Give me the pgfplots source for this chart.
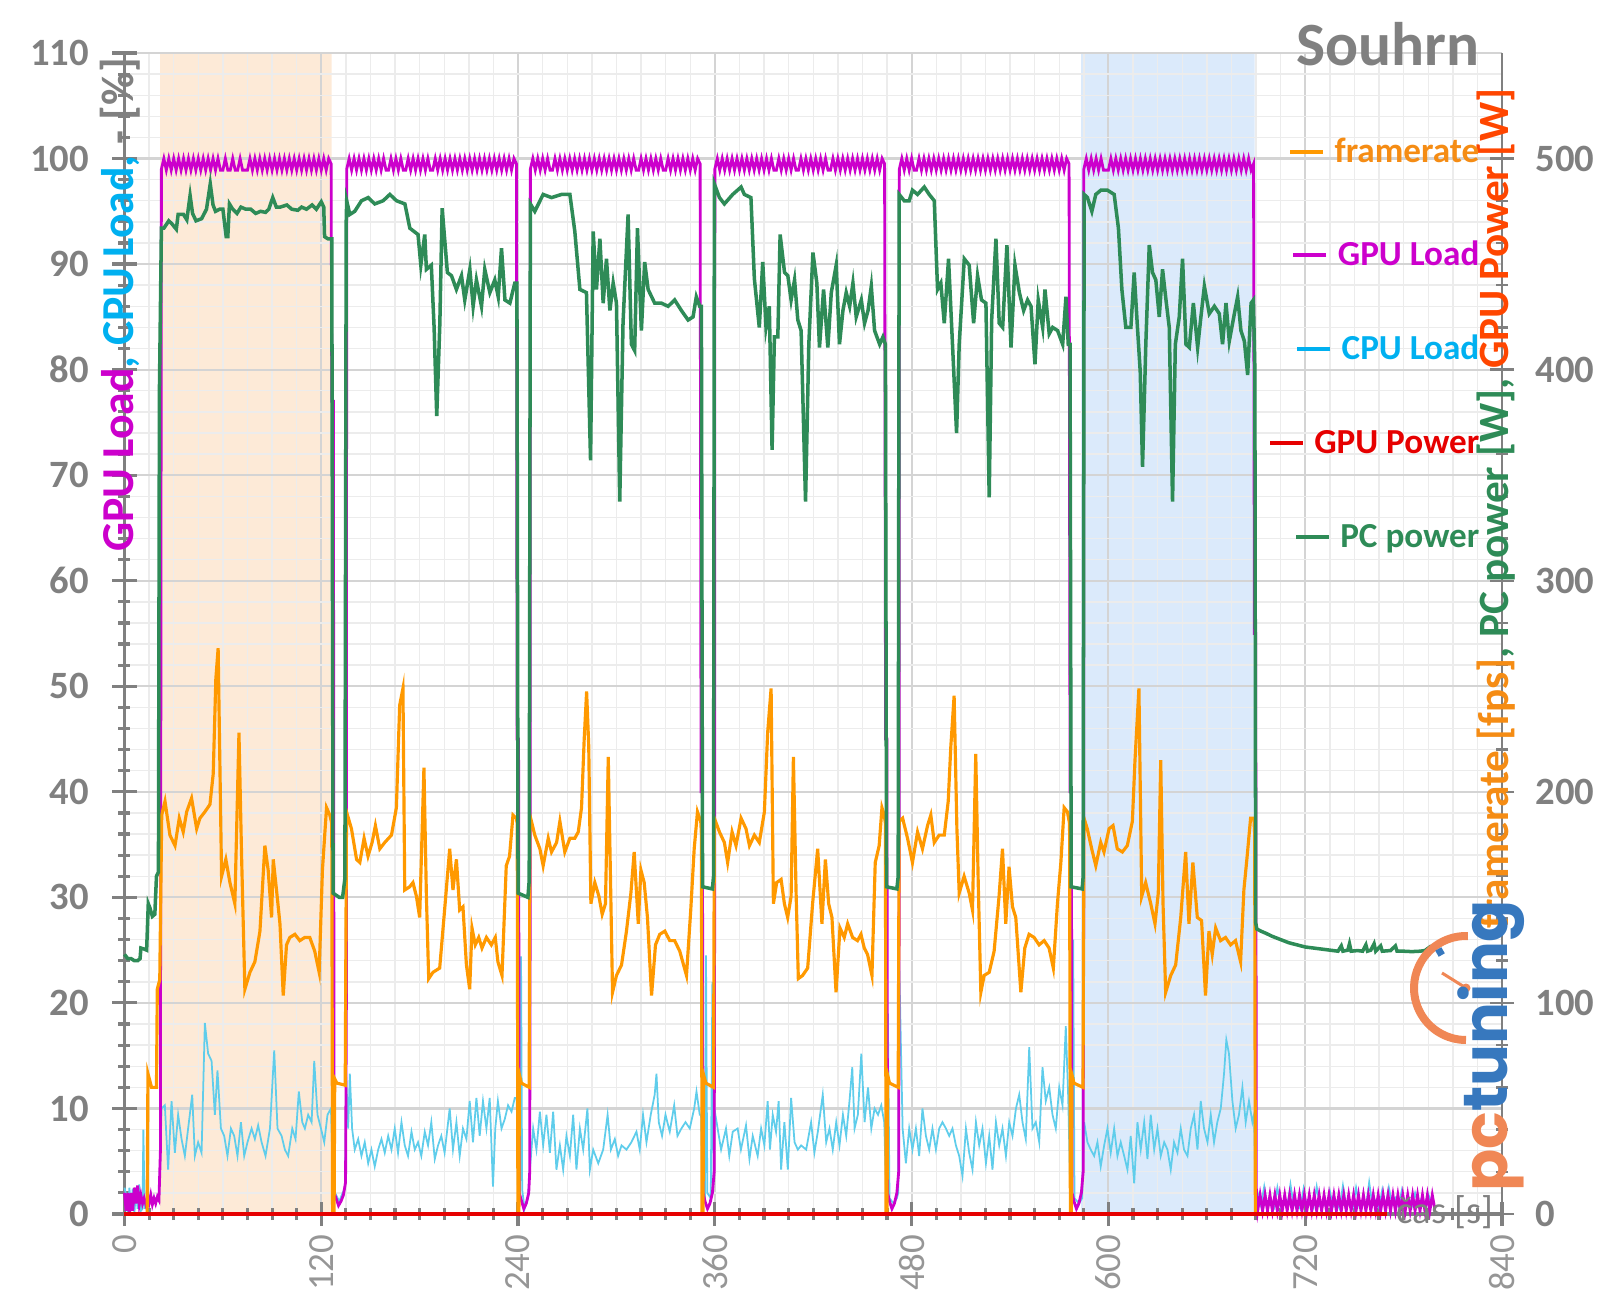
\documentclass[border=0pt]{standalone}
\usepackage{pgfplots}
\pgfplotsset{compat=1.18}
\usepackage{fontspec}
\setmainfont{Carlito}
\newfontfamily\logofont{Poppins}
\definecolor{cGPU}{RGB}{204,0,204}
\definecolor{cCPU}{RGB}{95,205,235}
\definecolor{cCPUt}{RGB}{0,176,240}
\definecolor{cFPS}{RGB}{255,153,0}
\definecolor{cFPSt}{RGB}{245,140,20}
\definecolor{cGPUP}{RGB}{230,0,0}
\definecolor{cGPUPt}{RGB}{255,70,0}
\definecolor{cPC}{RGB}{46,139,87}
\definecolor{cGray}{RGB}{128,128,128}
\definecolor{cGrayL}{RGB}{150,150,150}
\definecolor{cBandO}{RGB}{253,234,215}
\definecolor{cBandB}{RGB}{219,234,251}
\definecolor{cGridMaj}{RGB}{212,212,212}
\definecolor{cGridMin}{RGB}{236,236,236}
\definecolor{cLogoO}{RGB}{240,135,85}
\definecolor{cLogoB}{RGB}{55,120,190}
\begin{document}
\begin{tikzpicture}
\begin{axis}[
  set layers,
  width=13.775cm, height=11.61cm, scale only axis,
  at={(0,0)}, anchor=south west,
  xmin=0, xmax=840, ymin=0, ymax=110,
  xtick={0,120,...,840}, ytick={0,10,...,110},
  minor x tick num=7, minor y tick num=4,
  grid=both,
  major grid style={color=cGridMaj, line width=0.6pt},
  minor grid style={color=cGridMin, line width=0.4pt},
  axis x line*=bottom, axis y line*=left,
  axis line style={color=cGray, line width=0.9pt},
  every tick/.style={color=cGray, line width=0.9pt},
  tick align=center, major tick length=0.24cm, minor tick length=0.12cm,
  /pgf/number format/assume math mode=true,
  yticklabel style={font=\bfseries\fontsize{11}{13}\selectfont, color=cGray, inner sep=0pt},
  xticklabel style={font=\fontsize{10.5}{12}\selectfont, color=cGrayL, rotate=90, anchor=east, inner sep=0pt},
  xticklabel shift=0.08cm,
  yticklabel shift=0.23cm,
  clip=false,
]
\addplot[fill=cBandO, draw=none, on layer=axis background] coordinates {(21.8,0)(21.8,110)(126.3,110)(126.3,0)} \closedcycle;
\addplot[fill=cBandB, draw=none, on layer=axis background] coordinates {(583.4,0)(583.4,110)(689.2,110)(689.2,0)} \closedcycle;
% CPU Load
\addplot[cCPU, line width=0.5pt] coordinates {
(0,2.5)(1,1.8)(2,0)(3,2.5)(4,0.3)(5,2.4)(6,0)(7,2.2)(8,0.5)(9,2.8)(10,0.3)(11,0.5)(11.5,8)(12.3,0.5)(13,1.2)(14,1.5)(15,1.2)(16,1.8)(17,1)(18,1.6)(19,1.2)(20,1.5)(21,1.8)(21.8,5)
(22.6,10)(24.6,10.3)(26.6,4.2)(28.7,10.7)(30.7,5.8)(32.7,9.4)(34.8,7.1)(36.8,5.5)(38.8,8.1)(41.3,11.3)(42.9,5.5)(44.9,6.8)(47,5.8)(49,18.1)(51,15.2)(53.1,14.5)(55.1,9.4)(56.7,13.6)(58.8,8.1)(60.8,7.4)(62.8,5.5)(64.9,8.1)(66.9,7.4)(68.9,5.5)(71,8.7)(73,5.5)(75,6.8)(77.5,8.1)(79.5,7.1)(81.5,8.4)(83.6,6.8)(86,5.5)(88.7,8.1)(91.3,15.5)(93.3,8.1)(95.8,7.4)(97.8,6.1)(99.8,5.5)(102.3,8.1)(104.3,7.1)(106.3,11.6)(108.4,8.7)(110,8.1)(112,9.4)(114.1,8.7)(115.7,14.5)(117.7,9.4)(119.8,8.1)(121.8,6.8)(123.8,9.4)(125.9,10)
(127.5,1)(129,1.8)(131,1.2)(133,2)(134.5,2.5)(135.2,13)(136.4,8.1)(137.4,13.3)(138.8,8.1)(140.4,6.1)(142.5,7.1)(144.5,5.5)(146.5,6.8)(148.6,4.8)(150.6,6.1)(152.6,4.5)(154.7,6.1)(156.7,7.1)(158.7,5.8)(160.8,7.4)(162.8,6.1)(164.8,8.1)(166.8,5.8)(168.9,8.7)(170.9,6.5)(172.9,5.5)(175,7.8)(177,6.1)(179,6.8)(181,5.5)(183.1,7.8)(185.1,6.5)(187.1,8.7)(189.2,5.2)(191.2,6.5)(193.2,7.4)(195.2,5.8)(198.3,10)(200.3,6.1)(202.4,8.7)(204.4,5.5)(206.4,8.1)(208.5,7.1)(210.5,10.7)(212.5,6.8)(214.6,11)(216.6,7.4)(218.6,10.7)(220.7,8.1)(222.7,11)(224.7,2.6)(226.1,8.1)(227.7,10.7)(229.9,8.1)(231.9,9)(233.9,10.3)(236,9.7)(238,11)(239.2,11)
(240,1.3)(241.2,2)(241.8,24.4)(242.5,2.3)(244,0.5)(246,1.5)(247.2,4.2)
(249.2,8.1)(251.2,6.1)(253.3,9.7)(255.3,6.5)(257.3,9.4)(259.4,5.8)(261.4,9.7)(263.4,4.2)(265.5,6.5)(267.5,4.2)(269.5,7.4)(271.6,5.5)(273.6,9.4)(275.6,4.2)(277.7,8.1)(279.7,6.1)(282.3,10)(283.8,4.2)(285.8,6.1)(288.9,4.8)(291.9,6.1)(294.6,9.4)(296.6,6.1)(299,7.1)(301,5.5)(303.1,6.5)(306.1,6.1)(309.1,6.8)(312.2,7.8)(314.2,6.1)(316.2,9.4)(318.3,6.8)(320.9,9.4)(323.3,11.3)(324.4,13.3)(325.8,8.7)(327.8,7.4)(329.9,9.4)(332.5,7.8)(335.2,10.3)(337.2,7.4)(339.6,8.1)(342.1,8.7)(344.7,8.1)(347.4,10)(348.8,11.6)(350.8,9.4)(351.6,9.4)
(352.5,1.5)(354,1.5)(354.6,24.5)(355.4,2)(357.5,1.5)(358.5,22)(359.2,3)
(359.7,10)(361.7,8.1)(363.8,6.1)(366.8,8.1)(368.8,5.5)(370.9,7.8)(373.9,8.1)(375.9,6.1)(379,8.4)(381.1,5.2)(383.1,7.4)(386.1,5.5)(388.2,8.1)(390.2,6.5)(392.2,10.7)(393.6,6.1)(395.3,9.4)(397.3,7.8)(398.9,10.7)(400.4,4.2)(402.4,8.7)(404.5,4.2)(406.5,11)(408.6,6.8)(410.6,6.1)(412.6,6.5)(415.7,6.1)(418.7,8.7)(420.7,5.8)(422.8,7.8)(425.8,11.3)(427.9,6.8)(429.9,8.1)(431.9,6.1)(434,8.7)(436,6.5)(438.1,9.4)(440.1,7.4)(442.1,10.7)(443.8,13.9)(445.2,8.1)(447.2,9.4)(449.3,15.2)(451.3,8.7)(453.4,12)(455.4,8.1)(457.4,10)(459.5,9.4)(461.5,10.3)(463.3,8.7)
(464.5,1.5)(465.5,19)(466.5,1.5)(469,1)(471,1.5)(471.8,2)(472.4,23.9)
(474.5,8.1)(476.5,4.8)(478.5,8.1)(480.5,6.1)(482.6,8.1)(484.6,5.5)(486.6,10)(488.7,7.4)(490.7,6.1)(492.7,8.1)(494.8,6.1)(496.8,8.1)(498.8,8.7)(500.9,8.1)(502.9,7.4)(504.9,8.1)(507,6.5)(509,5.5)(511,3.6)(513.1,8.1)(515.1,5.8)(517.1,4.2)(519.2,8.7)(521.2,6.5)(523.2,8.1)(525.3,4.8)(527.3,7.4)(529.3,4.2)(531.4,8.7)(533.4,6.5)(535.4,8.1)(537.5,5.5)(539.5,8.7)(541.5,7.4)(543.6,10)(545.6,11.3)(547.6,8.7)(549.6,7.1)(551.7,15.8)(553.7,8.1)(555.7,8.7)(557.8,6.8)(559.8,13.9)(561.8,10.7)(563.9,12)(565.9,9.4)(567.9,8.1)(570,12)(572,10.3)(574,17.8)(575.5,11)
(576.8,1.5)(578.5,26)(579.3,1.5)(582,1)(584,1.5)
(585.2,8.7)(587.2,6.8)(589.2,6.1)(591.3,5.5)(593.3,6.8)(595.3,4.5)(597.4,6.5)(599.4,8.1)(601.4,5.8)(603.5,8.1)(605.5,5.5)(607.5,6.8)(609.6,5.5)(611.6,4.2)(613.6,7.4)(615.7,2.9)(617.7,8.7)(619.7,6.1)(621.8,8.7)(623.8,5.2)(625.8,9.4)(627.9,6.1)(629.9,8.1)(631.9,5.5)(634,6.8)(636,6.1)(638,4.2)(640,6.8)(642.1,5.8)(644.1,8.1)(646.1,6.1)(648.2,5.5)(650.2,8.1)(652.2,9.4)(654.3,6.1)(656.3,10.7)(658.3,8.1)(660.4,6.8)(662.4,9.4)(664.4,6.8)(666.4,8.7)(668.5,10)(670.5,13.3)(671.9,16.5)(673.5,15.2)(675.6,10.7)(677.6,8.1)(679.6,9.4)(681.7,12)(683.7,8.7)(685.7,10.7)(687.8,8.7)(688.8,9.4)
(689.8,1)(691,2)(693,0.8)(695,2.6)(697,0.7)(699,1.2)(701,0.6)(703,2.5)(705,0.7)(707,1.3)(709,0.6)(711,2.8)(713,0.8)(715,1.1)(717,0.5)(719,2.4)(721,0.7)(723,1.2)(725,0.6)(727,2.6)(729,0.8)(731,1.1)(733,0.6)(735,2.2)(737,0.7)(739,1.2)(741,0.5)(743,2.7)(745,0.8)(747,1.2)(749,0.6)(751,2.5)(753,0.7)(755,1.3)(757,0.6)(759,3)(761,0.8)(763,1.3)(765,0.6)(767,2.3)(769,0.7)(771,2.5)(773,0.9)(775,1.5)(777,0.7)(779,2.3)(781,0.8)(783,1.6)(785,0.7)(787,2)(789,0.9)(791,1.5)(793,0.8)(795,1.9)(797,1)
};
% GPU Load
\addplot[cGPU, line width=0.8pt] coordinates {
(0,2)(1,0.3)(2,2)(3,0)(4,2)(5,0.3)(6,2.5)(7,1)(8,2.7)(9,0.9)(10,1.8)(11,1)(12,1.5)(13,0.9)(14,1.4)(15,1)(16,1.8)(17,0.9)(18,1.5)(19,1)(20,1.6)(21,1.3)(21.9,6)
(22.5,99)(24,100)(25.5,98.9)(27,100)(28.5,98.9)(30,100)(31.5,98.9)(33,100)(34.5,98.9)(36,100)(37.5,98.9)(39,100)(40.5,98.9)(42,100)(43.5,98.9)(45,100)(46.5,98.9)(48,100)(49.5,98.9)(51,100)(52.5,98.9)(54,100)(55.5,98.9)(57,100)(58.5,98.9)(60,98.9)(61.5,100)(63,98.9)(64.5,98.9)(66,100)(67.5,98.9)(69,98.9)(70.5,100)(72,98.9)(73.5,98.9)(75,98.9)(76.5,100)(78,98.9)(79.5,100)(81,98.9)(82.5,100)(84,98.9)(85.5,100)(87,98.9)(88.5,100)(90,98.9)(91.5,100)(93,98.9)(94.5,100)(96,98.9)(97.5,100)(99,98.9)(100.5,100)(102,98.9)(103.5,100)(105,98.9)(106.5,100)(108,98.9)(109.5,100)(111,98.9)(112.5,100)(114,98.9)(115.5,100)(117,98.9)(118.5,100)(120,98.9)(121.5,100)(123,98.9)(124.5,100)(126,99.5)
(126.4,77)(127.4,77)(127.8,2)(129,1.5)(130.5,0.8)(132,1.2)(133.5,1.8)(134.8,3)(135.3,20)
(135.5,99)(137,100)(138.5,98.9)(140,100)(141.5,98.9)(143,100)(144.5,98.9)(146,100)(147.5,98.9)(149,100)(150.5,98.9)(152,100)(153.5,98.9)(155,100)(156.5,98.9)(158,100)(159.5,98.9)(161,98.9)(162.5,100)(164,98.9)(165.5,100)(167,98.9)(168.5,100)(170,98.9)(171.5,98.9)(173,100)(174.5,98.9)(176,100)(177.5,98.9)(179,100)(180.5,98.9)(182,100)(183.5,98.9)(185,100)(186.5,98.9)(188,98.9)(189.5,100)(191,98.9)(192.5,100)(194,98.9)(195.5,100)(197,98.9)(198.5,100)(200,98.9)(201.5,100)(203,98.9)(204.5,100)(206,98.9)(207.5,100)(209,98.9)(210.5,100)(212,98.9)(213.5,100)(215,98.9)(216.5,100)(218,98.9)(219.5,100)(221,98.9)(222.5,100)(224,98.9)(225.5,100)(227,98.9)(228.5,100)(230,98.9)(231.5,100)(233,98.9)(234.5,100)(236,98.9)(237.5,100)(239,99.5)
(239.4,45)(240.3,45)(240.7,2)(242,1.3)(243.5,0.5)(245,1)(246.5,2)(247.1,4)(247.4,30)
(247.5,99)(249,100)(250.5,98.9)(252,100)(253.5,98.9)(255,100)(256.5,98.9)(258,100)(259.5,98.9)(261,98.9)(262.5,100)(264,98.9)(265.5,100)(267,98.9)(268.5,100)(270,98.9)(271.5,100)(273,98.9)(274.5,100)(276,98.9)(277.5,100)(279,98.9)(280.5,100)(282,98.9)(283.5,100)(285,98.9)(286.5,100)(288,98.9)(289.5,100)(291,98.9)(292.5,100)(294,98.9)(295.5,100)(297,98.9)(298.5,100)(300,98.9)(301.5,100)(303,98.9)(304.5,100)(306,98.9)(307.5,100)(309,98.9)(310.5,100)(312,98.9)(313.5,98.9)(315,100)(316.5,98.9)(318,100)(319.5,98.9)(321,100)(322.5,98.9)(324,100)(325.5,98.9)(327,100)(328.5,98.9)(330,98.9)(331.5,100)(333,98.9)(334.5,100)(336,98.9)(337.5,100)(339,98.9)(340.5,100)(342,98.9)(343.5,100)(345,98.9)(346.5,100)(348,98.9)(349.5,100)(351,99.5)
(351.6,40)(352.4,40)(352.8,2)(354,1.2)(355.5,0.5)(357,1)(358.5,2)(359.6,4)(359.9,30)
(360,99)(361.5,100)(363,98.9)(364.5,100)(366,98.9)(367.5,100)(369,98.9)(370.5,100)(372,98.9)(373.5,100)(375,98.9)(376.5,100)(378,98.9)(379.5,100)(381,98.9)(382.5,100)(384,98.9)(385.5,100)(387,98.9)(388.5,100)(390,98.9)(391.5,100)(393,98.9)(394.5,100)(396,98.9)(397.5,98.9)(399,100)(400.5,98.9)(402,100)(403.5,98.9)(405,100)(406.5,98.9)(408,100)(409.5,98.9)(411,98.9)(412.5,100)(414,98.9)(415.5,100)(417,98.9)(418.5,100)(420,98.9)(421.5,100)(423,98.9)(424.5,100)(426,98.9)(427.5,100)(429,98.9)(430.5,98.9)(432,100)(433.5,98.9)(435,100)(436.5,98.9)(438,100)(439.5,98.9)(441,100)(442.5,98.9)(444,100)(445.5,98.9)(447,100)(448.5,98.9)(450,100)(451.5,98.9)(453,100)(454.5,98.9)(456,100)(457.5,98.9)(459,100)(460.5,98.9)(462,100)(463.5,99.5)
(464.1,45)(464.9,45)(465.3,2)(466.5,1.2)(468,0.5)(469.5,1)(471,2)(472.1,4)(472.4,30)
(472.5,99)(474,100)(475.5,98.9)(477,100)(478.5,98.9)(480,100)(481.5,98.9)(483,98.9)(484.5,100)(486,98.9)(487.5,100)(489,98.9)(490.5,100)(492,98.9)(493.5,100)(495,98.9)(496.5,100)(498,98.9)(499.5,100)(501,98.9)(502.5,100)(504,98.9)(505.5,100)(507,98.9)(508.5,100)(510,98.9)(511.5,100)(513,98.9)(514.5,100)(516,98.9)(517.5,100)(519,98.9)(520.5,100)(522,98.9)(523.5,100)(525,98.9)(526.5,100)(528,98.9)(529.5,100)(531,98.9)(532.5,100)(534,98.9)(535.5,100)(537,98.9)(538.5,100)(540,98.9)(541.5,100)(543,98.9)(544.5,100)(546,98.9)(547.5,100)(549,98.9)(550.5,100)(552,98.9)(553.5,100)(555,98.9)(556.5,100)(558,98.9)(559.5,100)(561,98.9)(562.5,100)(564,98.9)(565.5,100)(567,98.9)(568.5,100)(570,98.9)(571.5,100)(573,98.9)(574.5,100)(576,99.5)
(576.6,40)(577.4,40)(577.8,2)(579,1.2)(580.5,0.5)(582,1)(583.5,2)(584.6,4)(584.9,30)
(585,99)(586.5,100)(588,98.9)(589.5,100)(591,98.9)(592.5,100)(594,98.9)(595.5,100)(597,98.9)(598.5,98.9)(600,98.9)(601.5,100)(603,98.9)(604.5,100)(606,98.9)(607.5,100)(609,98.9)(610.5,100)(612,98.9)(613.5,100)(615,98.9)(616.5,100)(618,98.9)(619.5,100)(621,98.9)(622.5,100)(624,98.9)(625.5,100)(627,98.9)(628.5,100)(630,98.9)(631.5,100)(633,98.9)(634.5,100)(636,98.9)(637.5,100)(639,98.9)(640.5,100)(642,98.9)(643.5,100)(645,98.9)(646.5,100)(648,98.9)(649.5,100)(651,98.9)(652.5,100)(654,98.9)(655.5,100)(657,98.9)(658.5,100)(660,98.9)(661.5,100)(663,98.9)(664.5,100)(666,98.9)(667.5,100)(669,98.9)(670.5,100)(672,98.9)(673.5,100)(675,98.9)(676.5,100)(678,98.9)(679.5,100)(681,98.9)(682.5,100)(684,98.9)(685.5,100)(687,98.9)(688.5,99.5)
(689,55)(689.8,55)(690.2,2)
(691,0.3)(692.5,1.8)(694,0.3)(695.5,1.8)(697,0.3)(698.5,1.8)(700,0.3)(701.5,1.8)(703,0.3)(704.5,1.8)(706,0.3)(707.5,1.8)(709,0.3)(710.5,1.8)(712,0.3)(713.5,1.8)(715,0.3)(716.5,1.8)(718,0.3)(719.5,1.8)(721,0.3)(722.5,1.8)(724,0.3)(725.5,1.8)(727,0.3)(728.5,1.8)(730,0.3)(731.5,1.8)(733,0.3)(734.5,1.8)(736,0.3)(737.5,1.8)(739,0.3)(740.5,1.8)(742,0.3)(743.5,1.8)(745,0.3)(746.5,1.8)(748,0.3)(749.5,1.8)(751,0.3)(752.5,1.8)(754,0.3)(755.5,1.8)(757,0.3)(758.5,1.8)(760,0.3)(761.5,1.8)(763,0.3)(764.5,1.8)(766,0.3)(767.5,1.8)(769,0.3)(770.5,1.8)(772,0.3)(773.5,1.8)(775,0.3)(776.5,1.8)(778,0.3)(779.5,1.8)(781,0.3)(782.5,1.8)(784,0.3)(785.5,1.8)(787,0.3)(788.5,1.8)(790,0.3)(791.5,1.8)(793,0.3)(794.5,1.8)(796,0.3)(797.5,1.8)(799,0.5)
};
\end{axis}
\begin{axis}[
  width=13.775cm, height=11.61cm, scale only axis,
  at={(0,0)}, anchor=south west,
  xmin=0, xmax=840, ymin=0, ymax=550,
  axis x line=none, axis y line*=right,
  ytick={0,100,...,500}, minor y tick num=4,
  axis line style={color=cGray, line width=0.7pt},
  every tick/.style={color=cGray, line width=0.7pt},
  tick align=center, major tick length=0.24cm, minor tick length=0.12cm,
  /pgf/number format/assume math mode=true,
  yticklabel style={font=\bfseries\fontsize{11}{13}\selectfont, color=cGray, inner sep=0pt},
  yticklabel shift=0.21cm,
  clip=false,
]
% framerate
\addplot[cFPS, line width=0.9pt] coordinates {
(0,0)(13.8,0)(14.3,66.5)(16.5,60)(19.5,60)(20,106.5)(21.5,111)(22.7,189)
(24.7,195.5)(27.7,179.5)(30.8,174.5)(33.4,187.5)(35.8,181)(37.9,190.5)(40.9,197)(44,182.5)(46,187.5)(49,190.5)(52.1,194)(54.1,208.5)(55.7,253.5)(57.1,268)(59.2,160)(61.8,168)(64.3,157)(67.3,147)(69.8,228)(71.4,169.5)(73.4,106.5)(76.5,114.5)(79.5,119.5)(82.6,134)(85.6,174.5)(87.6,163)(89.7,140.5)(90.7,168)(92.7,153.5)(94.8,137.5)(96.8,103.5)(98.8,127.5)(100.8,131)(103.9,132.5)(106.9,129.5)(109.9,131)(113,131)(116,124.5)(118.7,114.5)(120.7,163)(123.2,192.5)(125.2,189)(126.4,185)
(126.9,0)(127.8,0)(128.2,64)(129.5,62)(134.6,61)
(135.4,190.5)(138.4,182.5)(141.5,168)(143.5,166.5)(146.1,178)(148.5,169.5)(151,176)(153,184)(155.7,173)(158.7,176)(162.8,179.5)(165.8,192.5)(167.8,241)(169.8,249)(170.9,153.5)(173.9,155)(175.9,157)(178,150.5)(180,140.5)(182.6,211.5)(184.1,150.5)(185.5,111.5)(188.1,114.5)(192.2,116.5)(195.2,144)(198.3,173)(200.3,153.5)(202.4,168)(204.4,144)(206.4,145.5)(208.5,118)(210.5,106.5)(211.9,135.5)(213.9,127.5)(216,131)(218,126)(220.7,131)(223.7,127.5)(226.1,131)(227.7,119.5)(230.2,113)(232.8,165)(234.8,169.5)(236.9,189)(238.9,187.5)(239.5,185)
(239.9,0)(240.5,0)(240.8,66)(242,62)(246.8,60)
(247.2,189)(250.2,179.5)(253.3,173)(255.3,165)(258.4,178)(260.4,171.5)(263.5,176)(265.5,186)(268.5,171.5)(271.6,178)(274.6,178)(276.7,181)(278.7,192.5)(280.3,224.5)(281.8,247.5)(283.1,221.5)(284.4,147)(286.8,157)(289.3,150.5)(291.3,142)(293.3,147)(295,216.5)(296.4,157)(297.6,105)(300,113)(303.1,118)(306.1,134)(308.8,152)(310.8,171.5)(313.3,137.5)(314.9,163)(316.9,157)(318.9,140.5)(321.4,103.5)(323.8,127.5)(326.4,132.5)(329.5,134)(332.5,129.5)(335.5,129.5)(338.6,124.5)(342.7,113)(345.3,144)(347.4,173)(349.4,190.5)(351.4,186)(351.8,180)
(352.2,0)(352.8,0)(353.1,66)(354.5,62)(359.2,60)
(359.7,187.5)(362.8,181)(365.8,176)(367.8,166.5)(370.5,181)(372.9,174.5)(376,187.5)(379,182.5)(381.1,174.5)(384.1,179.5)(387.1,176)(390.2,190.5)(392.2,228)(394.3,249)(395.7,147)(397.7,157)(400.4,158.5)(402.4,147)(404.4,140.5)(406.5,150.5)(407.9,216.5)(409.5,153.5)(410.9,111.5)(413.5,113)(416.6,116.5)(419.6,147)(422.7,173)(425.3,137.5)(427.4,168)(429.4,147)(431.4,140.5)(433.9,105)(436.3,135.5)(438.9,131)(441,137.5)(444,131)(447,129.5)(449.1,132.5)(451.1,126)(453.1,123)(455.8,113)(457.8,166.5)(460.2,174.5)(461.9,192.5)(463.3,189)(464,185)
(464.4,0)(465,0)(465.3,66)(466.5,62)(471.8,60)
(472.4,186)(474.5,187.5)(477.5,178)(480.5,166.5)(483.6,181)(486.6,173)(489.7,184)(491.7,189)(493.8,176)(496.8,179.5)(499.9,179.5)(502.3,195.5)(503.9,221.5)(505.9,245.5)(507.6,182.5)(509,152)(512,160)(515.1,152)(517.1,144)(519.1,218)(520.6,157)(522.2,105)(524.2,113)(527.3,114.5)(530.3,124.5)(533.3,150.5)(535.4,173)(537.4,137.5)(539.4,164.5)(541.5,145.5)(543.5,140.5)(546.6,105)(549,126)(551.6,132.5)(554.7,131)(557.7,127.5)(560.8,129.5)(563.8,126)(566.4,116.5)(568.9,147)(571,166.5)(573,192.5)(575,190.5)(576.3,185)
(576.8,0)(577.4,0)(577.7,66)(579,62)(584.5,60)
(585.1,187.5)(587.1,182.5)(589.8,173)(592.3,165)(595.3,176)(597.3,171.5)(600.4,182.5)(602.8,184)(605.4,173)(608.5,171.5)(611.5,174.5)(614.6,186)(616.2,215)(618.6,249)(620.3,150.5)(622.7,157)(625.8,147)(628.4,137.5)(630.4,152)(631.9,215)(633.3,147)(634.9,105)(638,113)(641,118)(644.1,140.5)(647.1,171.5)(649.1,137.5)(651.5,166.5)(654.2,140.5)(656.8,139)(659.2,103.5)(661.3,134)(663.3,123)(665.4,135.5)(668.4,129.5)(671.4,131)(674.5,127.5)(677.5,129.5)(680.6,119.5)(682.6,153.5)(684.6,169.5)(686.7,187.5)(688.7,187.5)(689.2,180)
(689.6,0)(770,0)
};
% GPU Power
\addplot[cGPUP, line width=1.2pt] coordinates {(0,0)(770,0)};
% PC power
\addplot[cPC, line width=1pt] coordinates {
(0,123)(2,121)(4,121)(6,120)(8,120)(9.5,121)(10,126)(12,125.5)(13.5,125)(14.5,147)(15.5,145)(17,141)(18.5,142)(19.5,160)(20.7,162)(21.3,390)(22.5,467)
(24,467)(27,470.5)(29,469)(31.6,466.5)(32.7,473.5)(36,473.5)(38,471)(40,482.5)(41.5,474)(43.6,470.5)(47,471.5)(50,476)(52.3,488)(54,478)(55.5,475)(58,476)(60,476)(62,463)(63,463)(64,478.5)(66,476)(68.6,474)(71,477)(74,476)(77,476)(80,474)(83,475)(86,474.5)(88,476)(90.4,481.5)(92.6,477)(95,477)(99,478)(102,476)(105.7,475.5)(108,477)(111,476)(114.4,478)(117,476)(120,479.5)(121.5,477)(122,463)(124,462)(126.4,462)
(127.2,152)(131,150)(133,150)(134.4,159)(135.2,470)
(135.5,480)(137.4,473.5)(140.4,475)(144.5,480)(148.6,481.5)(152.6,478.5)(157.7,480)(161.8,483)(165.9,480)(171,478.5)(174,467)(179,464)(180.7,449.5)(183.1,464)(184.1,447.5)(187.1,449.5)(188.8,420)(190.4,378)(192.3,422)(193.7,476.5)(196.9,446)(199.4,444.5)(202.4,438)(205.5,444.5)(207.5,433)(210.6,447.5)(212.6,430)(214.6,442.5)(217.7,430)(219.7,447.5)(222.8,436.5)(225.8,442.5)(227.9,434.5)(229.9,457.5)(232,433)(235,431.5)(238,441)(239.3,441)
(240,152)(246,150)(246.8,158)
(247.5,478.5)(250.2,475)(255.3,483)(260.4,481.5)(266.5,483)(271.6,483)(274.6,465.5)(277.7,438)(281.7,436.5)(284.2,357)(285.8,465.5)(287.8,438)(289.9,462)(291.9,431.5)(293.9,452.5)(296,428)(298,441)(300,431.5)(302,337.5)(304,422)(307.1,473.5)(309.1,412)(311.1,409)(312.8,467)(315.2,418.5)(317.2,451)(319.3,438)(323.3,431.5)(327.4,431.5)(331.5,430)(335.5,433)(339.6,428)(343.7,423.5)(346.7,425)(348.7,434.5)(350.8,430)(351.8,430)
(352.5,155)(358.5,154)(359.2,160)
(359.7,488)(362.8,481.5)(365.8,478.5)(370.9,483)(376,486.5)(378,483)(382,481.5)(384.1,443)(387.1,420)(389.2,451)(391.2,420)(393.2,430)(394.9,362)(396.3,415.5)(398.4,415.5)(399.8,464)(402.5,446)(404.5,444.5)(406.5,433)(408.6,442.5)(410.6,423.5)(412.6,418.5)(415.3,337.5)(417.3,412)(419.8,455.5)(422.2,441)(423.8,410.5)(426.3,438)(428.9,410.5)(431,436.5)(434,449.5)(436,412)(438.1,428)(440.1,436.5)(442.2,430)(444.2,441)(446.2,425)(449.3,433)(451.3,422)(453.4,428)(455.4,439.5)(457.4,418.5)(460.5,412)(462.5,415.5)(464,412)
(464.7,155)(471,154)(471.8,160)
(472.4,483)(475.5,480)(478.5,480)(480.5,485)(483.6,483)(487.7,486.5)(490.7,483)(493.8,480)(495.8,438)(497.8,441)(499.9,422)(502.5,452.5)(505,410.5)(507.4,370)(509,412)(512.1,452.5)(515.1,449.5)(517.8,422)(520.2,444.5)(522.6,433)(525.3,431.5)(527.3,339.5)(528.8,423.5)(531.4,462)(533.4,422)(535.5,420)(538.1,459)(540.6,410.5)(543,449.5)(545.7,436.5)(548.3,428)(550.7,433)(552.8,430)(555.2,402.5)(557.2,433)(559.9,420)(561.3,438)(563.9,417)(566,420)(569,418.5)(572.1,412)(574.1,434.5)(575.5,412)(576.6,412)
(577.3,155)(584,154)(584.6,160)
(585.2,483)(587.2,481.5)(589.9,475)(592.3,483)(595.4,485)(599.4,485)(603.5,483)(606.1,467)(608.2,438)(610.6,420)(613.7,420)(615.7,446)(617.7,420)(619.4,399)(620.8,354)(622.8,412)(624.9,459)(626.9,446)(628.9,442.5)(631,425)(633,447.5)(635.1,433)(637.1,420)(639.1,337.5)(640.8,412)(643.2,425)(645.2,452.5)(647.3,412)(649.3,410.5)(651.8,431.5)(654.4,410.5)(656.4,425)(658.5,439.5)(661.5,426.5)(664.6,430)(667.6,426.5)(669.6,412)(671.7,431.5)(673.7,413.5)(676.8,426.5)(678.8,434.5)(680.8,418.5)(682.9,413.5)(684.9,397.5)(687,431.5)(688.4,433)(689.3,400)
(689.8,138)(690.5,135)(693,134)(696,133)(700,131.5)(705,130)(710,128.5)(715,127.5)(720,126.5)(725,126)(730,125.5)(735,125)(740,124.5)(742,127)(743,124.5)(746,125)(747,128)(748,124.5)(752,124.8)(755,124.5)(757,127.5)(758,124.5)(760,125)(762,128)(763,124.5)(766,127)(767,124.5)(772,124.8)(775,127)(776,124.5)(780,124.5)(785,124.3)(790,124.5)(793,124.8)(796,126.5)(797.5,124.5)
};
\end{axis}
% axis titles
\node[rotate=90, anchor=base east, inner sep=0pt, font=\bfseries\fontsize{13}{15}\selectfont] at (0.085,11.57)
  {\textcolor{cGPU}{GPU Load}\textcolor{cCPUt}{, CPU Load,} \textcolor{cGray}{- [\%]}};
\node[rotate=90, anchor=base east, inner sep=0pt, font=\bfseries\fontsize{12.3}{14}\selectfont] at (13.835,11.26)
  {\textcolor{cFPSt}{framerate [fps]}\textcolor{cPC}{, PC power [W],} \textcolor{cGPUPt}{GPU Power [W]}};
% title
\node[anchor=base east, inner sep=0pt, font=\bfseries\fontsize{17.5}{20}\selectfont, text=cGray] at (13.555,11.48) {Souhrn};
% x label
\node[anchor=base east, inner sep=0pt, font=\fontsize{11}{13}\selectfont, text=cGray] at (13.70,-0.093) {čas [s]};
% legend
\begin{scope}[every node/.style={anchor=east, inner sep=0pt, text height=1.45ex, text depth=0.2ex, font=\bfseries\fontsize{10}{12}\selectfont}]
\node[text=cFPSt] (l1) at (13.555,10.62) {framerate};
\draw[cFPS, line width=0.9pt] ([xshift=-0.11cm]l1.west) -- ++(-0.33,0);
\node[text=cGPU] (l2) at (13.555,9.59) {GPU Load};
\draw[cGPU, line width=0.9pt] ([xshift=-0.11cm]l2.west) -- ++(-0.33,0);
\node[text=cCPUt] (l3) at (13.555,8.65) {CPU Load};
\draw[cCPUt, line width=0.9pt] ([xshift=-0.11cm]l3.west) -- ++(-0.33,0);
\node[text=cGPUP] (l4) at (13.555,7.71) {GPU Power};
\draw[cGPUP, line width=0.9pt] ([xshift=-0.11cm]l4.west) -- ++(-0.33,0);
\node[text=cPC] (l5) at (13.555,6.77) {PC power};
\draw[cPC, line width=0.9pt] ([xshift=-0.11cm]l5.west) -- ++(-0.33,0);
\end{scope}
% watermark logo
\draw[cLogoO, line width=0.08cm] ([shift={(88:0.52)}]13.415,2.26) arc[start angle=88, end angle=270, radius=0.52];
\draw[cLogoO, line width=0.03cm] (13.415,2.26) -- (13.175,2.41);
\fill[cLogoO] (13.415,2.26) circle (0.045);
\fill[cLogoB, rotate around={30:(13.155,2.62)}] (13.12,2.585) rectangle (13.19,2.655);
\node[rotate=90, anchor=base west, inner sep=0pt, font=\logofont\bfseries\fontsize{17.7}{20}\selectfont] at (13.83,0.22)
  {\textcolor{cLogoO}{pc}\textcolor{cLogoB}{tuning}};
\pgfresetboundingbox
\useasboundingbox (-1.245,-0.88) rectangle (14.755,12.14);
\end{tikzpicture}
\end{document}
